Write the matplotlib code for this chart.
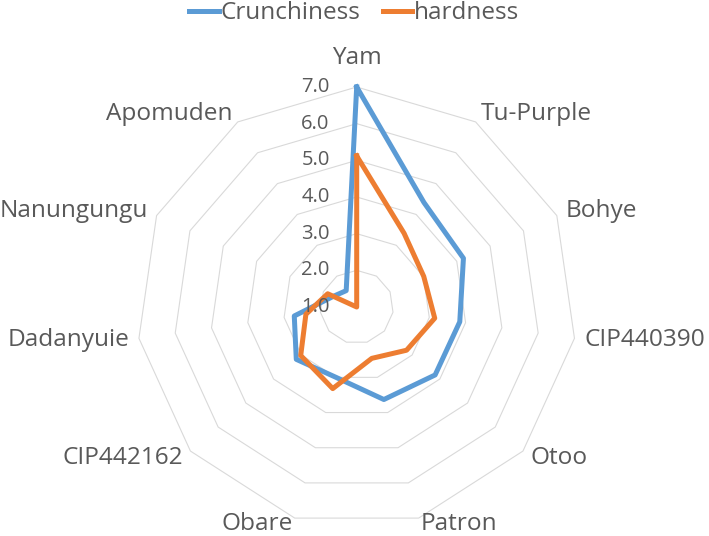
import numpy as np
import matplotlib
matplotlib.use("Agg")
import matplotlib.pyplot as plt
from matplotlib import transforms

categories = ["Yam", "Tu-Purple", "Bohye", "CIP440390", "Otoo", "Patron",
              "Obare", "CIP442162", "Dadanyuie", "Nanungungu", "Apomuden"]
crunchiness = [7.0, 4.39, 4.2, 3.84, 3.83, 3.63, 3.0, 3.18, 2.72, 1.7, 1.53]
hardness = [5.12, 3.39, 3.01, 3.15, 2.8, 2.46, 3.32, 3.02, 2.4, 1.87, 1.0]
ring_values = [1.0, 2.0, 3.0, 4.0, 5.0, 6.0, 7.0]

plt.rcParams['font.family'] = ['Open Sans', 'DejaVu Sans']
txt_color = "#595959"
grid_color = "#d9d9d9"

fig = plt.figure(figsize=(7.09, 5.36), dpi=100)
# polar axes: centre ~ (357, 307) px, radius 220 px
ax = fig.add_axes([0.1928, 0.0168, 0.6206, 0.8209], projection="polar")
ax.set_theta_zero_location("N")
ax.set_theta_direction(-1)
ax.set_ylim(ring_values[0], ring_values[-1])
ax.grid(False)
ax.spines["polar"].set_visible(False)
ax.set_xticks([])
ax.set_yticks([])
ax.patch.set_alpha(0)

n = len(categories)
ang = np.linspace(0, 2 * np.pi, n, endpoint=False)
ang_c = np.append(ang, ang[0])

# polygon grid
for v in ring_values[1:]:
    ax.plot(ang_c, [v] * (n + 1), color=grid_color, lw=0.8, zorder=1, clip_on=False)

# series
l1, = ax.plot(ang_c, crunchiness + crunchiness[:1], color="#5B9BD5", lw=3.6,
              zorder=3, clip_on=False, label="Crunchiness")
l2, = ax.plot(ang_c, hardness + hardness[:1], color="#ED7D31", lw=3.6,
              zorder=4, clip_on=False, label="hardness")

# radial value labels, left of the Yam spoke
off = transforms.offset_copy(ax.transData, fig=fig, x=-27, y=0, units="dots")
for v in ring_values:
    ax.text(0, v, f"{v:.1f}", transform=off, ha="right", va="center",
            fontsize=14.5, color=txt_color, zorder=5)

# category labels
rmax = ring_values[-1]
for a, lab in zip(ang, categories):
    s, c = np.sin(a), np.cos(a)
    if abs(s) < 0.1:
        ax.text(a, rmax + 0.45, lab, ha="center", va="bottom",
                fontsize=17.6, color=txt_color)
    else:
        r = rmax + (0.17 if c < -0.9 else 0.27)
        ax.text(a, r, lab, ha="left" if s > 0 else "right",
                va="center", fontsize=17.6, color=txt_color)

fig.legend(handles=[l1, l2], loc="center", bbox_to_anchor=(0.5, 0.975),
           ncol=2, frameon=False, fontsize=17.5, handlelength=1.2,
           handletextpad=0.1, columnspacing=0.9, labelcolor=txt_color)

fig.savefig("out.png", dpi=100)
